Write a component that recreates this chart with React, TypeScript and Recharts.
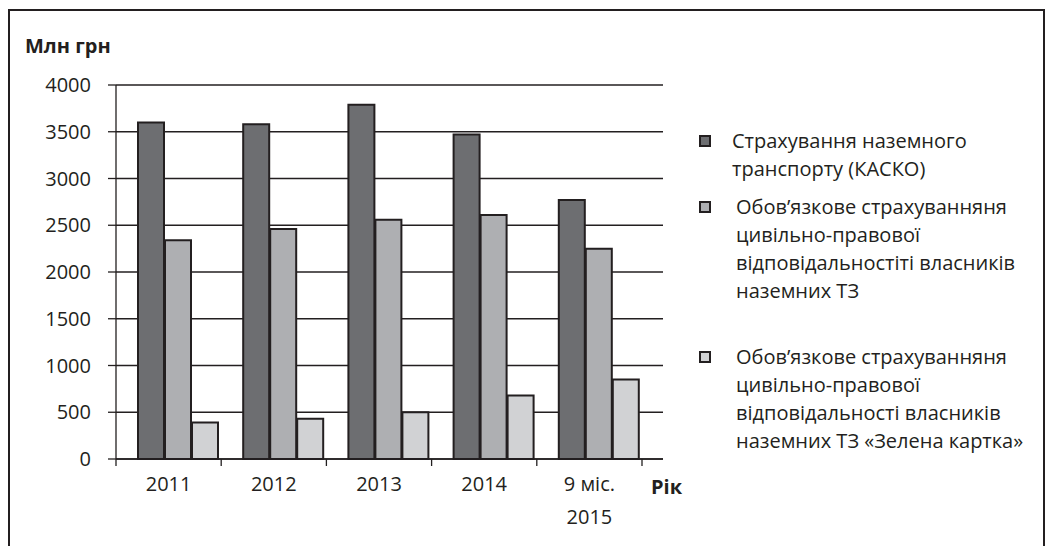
import React from "react";
import { BarChart, Bar, XAxis, YAxis, CartesianGrid, Legend } from "recharts";

const categories = ["2011", "2012", "2013", "2014", "9 міс.\n2015"];
const kasko = [3600, 3580, 3790, 3470, 2770];
const osago = [2340, 2460, 2560, 2610, 2250];
const greenCard = [390, 430, 500, 680, 850];
const yTicks = [0, 500, 1000, 1500, 2000, 2500, 3000, 3500, 4000];

const seriesNames = [
  "Страхування наземного\nтранспорту (КАСКО)",
  "Обов’язкове страхуванняня\nцивільно-правової\nвідповідальностіті власників\nназемних ТЗ",
  "Обов’язкове страхуванняня\nцивільно-правової\nвідповідальності власників\nназемних ТЗ «Зелена картка»",
];
const seriesKeys = ["kasko", "osago", "greenCard"];
const seriesColors = ["#6d6e71", "#aeafb2", "#d1d2d4"];

const data = categories.map((year, i) => ({
  year,
  kasko: kasko[i],
  osago: osago[i],
  greenCard: greenCard[i],
}));

const INK = "#231f20";
const FONT = "'Open Sans', 'Noto Sans', sans-serif";

// plot geometry (chart coords)
const W = 1033;
const H = 535;
const M = { top: 74, right: 380, bottom: 27, left: 0 };
const Y_W = 106;
const PAD_R = 21;
const BAND = (W - M.right - Y_W - PAD_R) / categories.length;
const AXIS_Y = H - M.bottom - 60;

const YearTick = (props: any) => {
  const { x, payload, index } = props;
  const y = AXIS_Y;
  const lines = String(payload.value).split("\n");
  return (
    <g>
      {index === 0 && (
        <line x1={x - BAND / 2} x2={x - BAND / 2} y1={y} y2={y + 7} stroke={INK} strokeWidth={1.3} />
      )}
      <line x1={x + BAND / 2} x2={x + BAND / 2} y1={y} y2={y + 7} stroke={INK} strokeWidth={1.3} />
      {lines.map((l, i) => (
        <text
          key={i}
          x={x}
          y={y + 24 + i * 33}
          textAnchor="middle"
          dominantBaseline="central"
          fill={INK}
          fontSize={20}
          fontFamily={FONT}
        >
          {l}
        </text>
      ))}
    </g>
  );
};

const itemGaps = [10, 38, 0];
const itemIndent = [21, 25, 25];

const LegendBox = (props: any) => {
  const items = [...(props.payload || [])].sort(
    (a: any, b: any) => seriesNames.indexOf(a.value) - seriesNames.indexOf(b.value)
  );
  return (
    <div style={{ fontFamily: FONT, fontSize: 20, color: INK, lineHeight: "28px" }}>
      {items.map((p: any, i: number) => (
        <div key={i} style={{ display: "flex", alignItems: "flex-start", marginBottom: itemGaps[i] }}>
          <div
            style={{
              width: 8,
              height: 8,
              marginTop: 8,
              background: p.color,
              border: `2px solid ${INK}`,
              marginRight: itemIndent[i],
              flexShrink: 0,
            }}
          />
          <div style={{ whiteSpace: "pre" }}>{p.value}</div>
        </div>
      ))}
    </div>
  );
};

export default function App() {
  return (
    <div
      style={{
        position: "absolute",
        left: 8,
        top: 9,
        width: 1033,
        height: 535,
        borderTop: `2px solid ${INK}`,
        borderLeft: `2px solid ${INK}`,
        borderRight: `2px solid ${INK}`,
        background: "#fff",
      }}
    >
      <div
        style={{
          position: "absolute",
          left: 15,
          top: 21,
          fontFamily: FONT,
          fontWeight: 700,
          fontSize: 20,
          color: INK,
        }}
      >
        Млн грн
      </div>
      <div
        style={{
          position: "absolute",
          left: 641,
          top: 462,
          fontFamily: FONT,
          fontWeight: 700,
          fontSize: 20,
          color: INK,
        }}
      >
        Рік
      </div>
      <BarChart width={W} height={H} data={data} margin={M} barGap={1} barSize={26}>
        <CartesianGrid vertical={false} stroke={INK} strokeWidth={1.3} xAxisId="labels" />
        <XAxis
          xAxisId="labels"
          dataKey="year"
          height={60}
          padding={{ left: 0, right: PAD_R }}
          axisLine={{ stroke: INK, strokeWidth: 1.3 }}
          tickLine={false}
          interval={0}
          tick={<YearTick />}
        />
        <XAxis xAxisId="bars" dataKey="year" hide height={0} padding={{ left: 9, right: 12 }} />
        <YAxis
          width={Y_W}
          domain={[0, 4000]}
          ticks={yTicks}
          interval={0}
          tickSize={8}
          tickMargin={17}
          axisLine={{ stroke: INK, strokeWidth: 1.3 }}
          tickLine={{ stroke: INK, strokeWidth: 1.3 }}
          tick={{ fill: INK, fontSize: 20, fontFamily: FONT }}
        />
        <Legend
          layout="vertical"
          align="center"
          verticalAlign="middle"
          content={<LegendBox />}
          wrapperStyle={{ position: "absolute", left: 689, top: 116, width: 340 }}
        />
        {seriesKeys.map((k, i) => (
          <Bar
            key={k}
            xAxisId="bars"
            dataKey={k}
            name={seriesNames[i]}
            fill={seriesColors[i]}
            stroke={INK}
            strokeWidth={2}
            isAnimationActive={false}
          />
        ))}
      </BarChart>
    </div>
  );
}
